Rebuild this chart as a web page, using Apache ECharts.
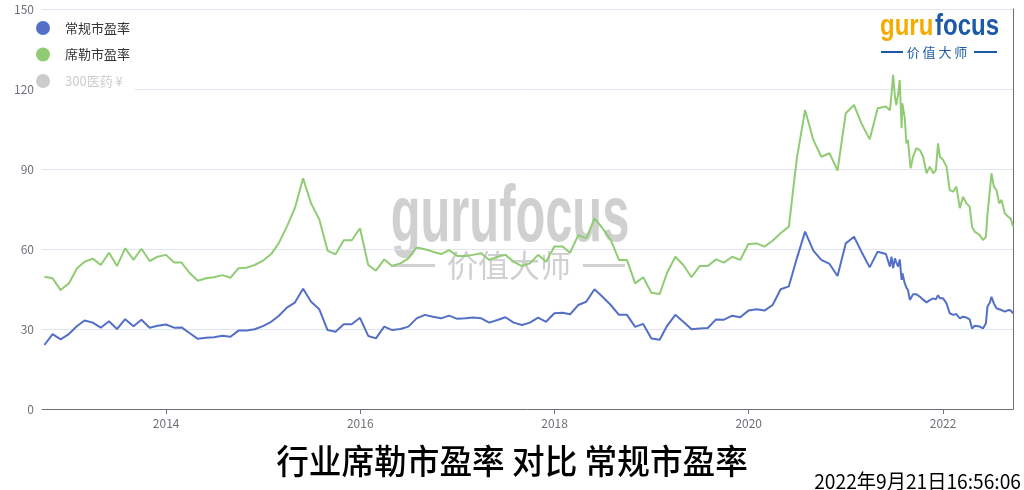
<!DOCTYPE html>
<html><head><meta charset="utf-8">
<script src="https://cdn.jsdelivr.net/npm/echarts@6/dist/echarts.min.js"></script>
<style>html,body{margin:0;padding:0;background:#fff}#c{width:1024px;height:490px}</style>
</head><body><div id="c"></div>
<script>
// ---- data ----
const legendNames = ['常规市盈率', '席勒市盈率', '300医药 ¥'];
const titleText = '行业席勒市盈率 对比 常规市盈率';
const stampText = '2022年9月21日16:56:06';
const yTicks = [0, 30, 60, 90, 120, 150];
const xStart = '2012-09-21';
const xEnd = '2022-09-21';

// monthly points (month end), 2012-09 .. 2021-05
const monthDates = [
  '2012-09-30','2012-10-31','2012-11-30','2012-12-31',
  '2013-01-31','2013-02-28','2013-03-31','2013-04-30','2013-05-31','2013-06-30','2013-07-31','2013-08-31','2013-09-30','2013-10-31','2013-11-30','2013-12-31',
  '2014-01-31','2014-02-28','2014-03-31','2014-04-30','2014-05-31','2014-06-30','2014-07-31','2014-08-31','2014-09-30','2014-10-31','2014-11-30','2014-12-31',
  '2015-01-31','2015-02-28','2015-03-31','2015-04-30','2015-05-31','2015-06-30','2015-07-31','2015-08-31','2015-09-30','2015-10-31','2015-11-30','2015-12-31',
  '2016-01-31','2016-02-29','2016-03-31','2016-04-30','2016-05-31','2016-06-30','2016-07-31','2016-08-31','2016-09-30','2016-10-31','2016-11-30','2016-12-31',
  '2017-01-31','2017-02-28','2017-03-31','2017-04-30','2017-05-31','2017-06-30','2017-07-31','2017-08-31','2017-09-30','2017-10-31','2017-11-30','2017-12-31',
  '2018-01-31','2018-02-28','2018-03-31','2018-04-30','2018-05-31','2018-06-30','2018-07-31','2018-08-31','2018-09-30','2018-10-31','2018-11-30','2018-12-31',
  '2019-01-31','2019-02-28','2019-03-31','2019-04-30','2019-05-31','2019-06-30','2019-07-31','2019-08-31','2019-09-30','2019-10-31','2019-11-30','2019-12-31',
  '2020-01-31','2020-02-29','2020-03-31','2020-04-30','2020-05-31','2020-06-30','2020-07-31','2020-08-31','2020-09-30','2020-10-31','2020-11-30','2020-12-31',
  '2021-01-31','2021-02-28','2021-03-31','2021-04-30','2021-05-31'
];
const peMonthly = [
  24.0, 28.1, 26.1, 28.1,
  31.1, 33.2, 32.4, 30.5, 32.9, 30.0, 33.7, 31.0, 33.5, 30.5, 31.2, 31.7,
  30.5, 30.6, 28.4, 26.3, 26.7, 26.9, 27.5, 27.1, 29.4, 29.4, 29.9, 31.1,
  32.7, 34.9, 38.0, 39.9, 45.1, 40.2, 37.4, 29.6, 29.0, 31.8, 31.8, 34.2,
  27.4, 26.5, 30.9, 29.6, 30.0, 30.9, 34.0, 35.3, 34.6, 34.0, 35.0, 33.8,
  34.0, 34.3, 34.0, 32.4, 33.4, 34.4, 32.4, 31.5, 32.4, 34.3, 32.7, 35.9,
  36.1, 35.5, 39.0, 40.2, 44.9, 42.1, 39.0, 35.3, 35.3, 30.8, 31.9, 26.4,
  26.0, 31.2, 35.3, 32.7, 29.9, 30.2, 30.4, 33.6, 33.5, 35.0, 34.4, 36.9,
  37.4, 36.9, 39.0, 44.9, 46.0, 56.5, 66.5, 59.4, 55.9, 54.4, 49.9, 62.1,
  64.6, 59.0, 53.1, 59.0, 58.1
];
const shillerMonthly = [
  49.6, 49.0, 44.6, 47.1,
  52.8, 55.2, 56.4, 54.0, 58.6, 53.6, 60.3, 55.9, 60.1, 55.5, 57.1, 57.8,
  54.9, 54.9, 50.9, 48.1, 49.0, 49.4, 50.2, 49.2, 52.8, 53.0, 54.0, 55.6,
  58.1, 62.1, 68.4, 75.3, 86.5, 77.1, 71.1, 59.4, 58.0, 63.3, 63.3, 67.8,
  54.0, 51.9, 56.1, 53.6, 54.6, 56.5, 60.6, 59.9, 59.0, 58.1, 59.6, 57.4,
  57.4, 57.8, 58.4, 55.9, 57.1, 57.8, 55.2, 53.6, 54.6, 57.8, 55.2, 60.9,
  60.9, 58.6, 65.2, 64.0, 71.5, 67.8, 63.4, 55.9, 55.9, 47.1, 49.4, 43.6,
  43.1, 51.1, 57.1, 54.0, 49.4, 53.6, 53.6, 56.1, 54.9, 57.1, 55.9, 61.9,
  62.1, 60.9, 63.1, 65.9, 68.4, 94.0, 112.1, 100.9, 94.6, 95.9, 89.4, 110.9,
  114.0, 107.1, 101.1, 112.8, 113.4
];
// denser points, 2021-06 .. 2022-09
const tailDates = [
  '2021-06-07','2021-06-15','2021-06-21','2021-06-27','2021-07-04','2021-07-09','2021-07-16','2021-07-22','2021-07-29','2021-08-01',
  '2021-08-10','2021-08-16','2021-08-22','2021-08-29','2021-09-01','2021-09-10','2021-09-23','2021-10-06','2021-10-18','2021-10-31',
  '2021-11-12','2021-11-25','2021-12-05','2021-12-13','2021-12-20','2021-12-26','2022-01-01','2022-01-14','2022-01-26','2022-02-08',
  '2022-02-20','2022-03-05','2022-03-17','2022-03-30','2022-04-11','2022-04-20','2022-04-30','2022-05-19','2022-05-31','2022-06-11',
  '2022-06-17','2022-06-26','2022-07-02','2022-07-11','2022-07-21','2022-07-31','2022-08-09','2022-08-21','2022-09-03','2022-09-13','2022-09-21'
];
const peTail = [
  58.0, 53.4, 57.1, 52.8, 56.5, 55.0, 53.4, 56.1, 48.4, 50.9,
  47.1, 45.5, 44.6, 40.9, 41.5, 43.0, 43.0, 42.1, 41.0, 40.0,
  40.8, 41.5, 41.1, 42.7, 41.5, 42.1, 41.5, 39.6, 35.9, 35.3,
  35.6, 34.0, 34.6, 34.3, 33.6, 30.2, 31.2, 30.9, 30.2, 32.1,
  38.4, 39.9, 42.1, 39.6, 37.8, 37.4, 37.1, 36.5, 37.1, 36.9, 35.9
];
const shillerTail = [
  113.0, 112.0, 118.0, 125.3, 117.0, 114.0, 118.0, 123.4, 105.3, 114.6,
  109.0, 99.6, 100.9, 93.0, 90.3, 94.6, 97.8, 97.1, 94.6, 88.4,
  90.9, 88.4, 89.6, 99.6, 94.6, 95.0, 93.4, 90.9, 82.1, 81.5,
  83.4, 75.3, 79.6, 77.1, 75.9, 68.4, 66.5, 65.2, 63.4, 64.5,
  73.0, 82.0, 88.4, 83.4, 82.1, 77.1, 78.4, 73.4, 72.1, 71.3, 68.4
];
const med300 = [];

// ---- build ----
const allDates = monthDates.concat(tailDates);
const peAll = peMonthly.concat(peTail);
const shAll = shillerMonthly.concat(shillerTail);
const peData = allDates.map((d, i) => [d, peAll[i]]);
const shData = allDates.map((d, i) => [d, shAll[i]]);

const CJK = '"Noto Sans CJK SC", "Noto Sans", sans-serif';
const chart = echarts.init(document.getElementById('c'), null, {renderer: 'canvas'});
const option = {
  animation: false,
  color: ['#5470c6', '#91cc75', '#cccccc'],
  textStyle: {fontFamily: CJK},
  grid: {left: 42, right: 11, top: 9, bottom: 81, containLabel: false},
  legend: {
    orient: 'vertical', left: 36, top: 16, padding: [5, 5, 5, 0],
    itemWidth: 20, itemHeight: 14, itemGap: 12.5, icon: 'circle',
    backgroundColor: '#fff',
    textStyle: {fontSize: 13, color: '#333', padding: [0, 0, 0, 7], fontFamily: CJK},
    inactiveColor: '#ccc',
    selected: {[legendNames[2]]: false},
    data: legendNames
  },
  xAxis: {
    type: 'time',
    min: echarts.number.parseDate(xStart).getTime(),
    max: echarts.number.parseDate(xEnd).getTime(),
    splitNumber: 5,
    axisLine: {lineStyle: {color: '#6E7079'}},
    axisTick: {show: true},
    axisLabel: {formatter: '{yyyy}', color: '#6E7079', fontSize: 12},
    splitLine: {show: false}
  },
  yAxis: [
    {type: 'value', min: yTicks[0], max: yTicks[yTicks.length - 1], interval: 30,
     axisLabel: {color: '#6E7079', fontSize: 12},
     splitLine: {lineStyle: {color: '#E0E6F1'}}},
    {type: 'value', min: yTicks[0], max: yTicks[yTicks.length - 1], interval: 30, position: 'right',
     axisLine: {show: true, lineStyle: {color: '#6E7079'}},
     axisLabel: {show: false}, axisTick: {show: false}, splitLine: {show: false}}
  ],
  series: [
    {name: legendNames[0], type: 'line', data: peData, showSymbol: false, lineStyle: {width: 2}, z: 3},
    {name: legendNames[1], type: 'line', data: shData, showSymbol: false, lineStyle: {width: 2}, z: 3},
    {name: legendNames[2], type: 'line', yAxisIndex: 1, data: med300, showSymbol: false}
  ],
  graphic: [
    // watermark
    {type: 'text', x: 510, y: 219, scaleX: 0.61, z: 0, silent: true,
     style: {text: 'gurufocus', font: 'bold 80px "Liberation Sans"', fill: '#d0d0d0', textAlign: 'center', textVerticalAlign: 'middle'}},
    {type: 'rect', z: 0, silent: true, shape: {x: 393, y: 264, width: 42, height: 3}, style: {fill: '#d0d0d0'}},
    {type: 'rect', z: 0, silent: true, shape: {x: 583, y: 264, width: 42, height: 3}, style: {fill: '#d0d0d0'}},
    {type: 'text', x: 509, y: 265, z: 0, silent: true,
     style: {text: '价值大师', font: '31px ' + CJK, fill: '#d0d0d0', textAlign: 'center', textVerticalAlign: 'middle'}},
    // logo
    {type: 'text', x: 880, y: 27, scaleX: 0.8, z: 5, silent: true,
     style: {text: 'guru', font: 'bold 30px "Liberation Sans"', fill: '#F6AB00', textAlign: 'left', textVerticalAlign: 'middle'}},
    {type: 'text', x: 935, y: 27, scaleX: 0.8, z: 5, silent: true,
     style: {text: 'focus', font: 'bold 30px "Liberation Sans"', fill: '#1C5AA6', textAlign: 'left', textVerticalAlign: 'middle'}},
    {type: 'rect', z: 5, silent: true, shape: {x: 881, y: 51, width: 22, height: 2}, style: {fill: '#1C5AA6'}},
    {type: 'rect', z: 5, silent: true, shape: {x: 974, y: 51, width: 23, height: 2}, style: {fill: '#1C5AA6'}},
    {type: 'text', x: 937, y: 52, z: 5, silent: true,
     style: {text: '价 值 大 师', font: '13px ' + CJK, fill: '#1C5AA6', textAlign: 'center', textVerticalAlign: 'middle'}},
    // title & timestamp
    {type: 'text', x: 512, y: 461, scaleX: 0.96, z: 5, silent: true,
     style: {text: titleText, font: '500 34px ' + CJK, fill: '#000', textAlign: 'center', textVerticalAlign: 'middle'}},
    {type: 'text', x: 1021, y: 481, scaleX: 0.96, z: 5, silent: true,
     style: {text: stampText, font: '20px ' + CJK, fill: '#000', textAlign: 'right', textVerticalAlign: 'middle'}}
  ]
};
chart.setOption(option);
</script>
</body></html>
